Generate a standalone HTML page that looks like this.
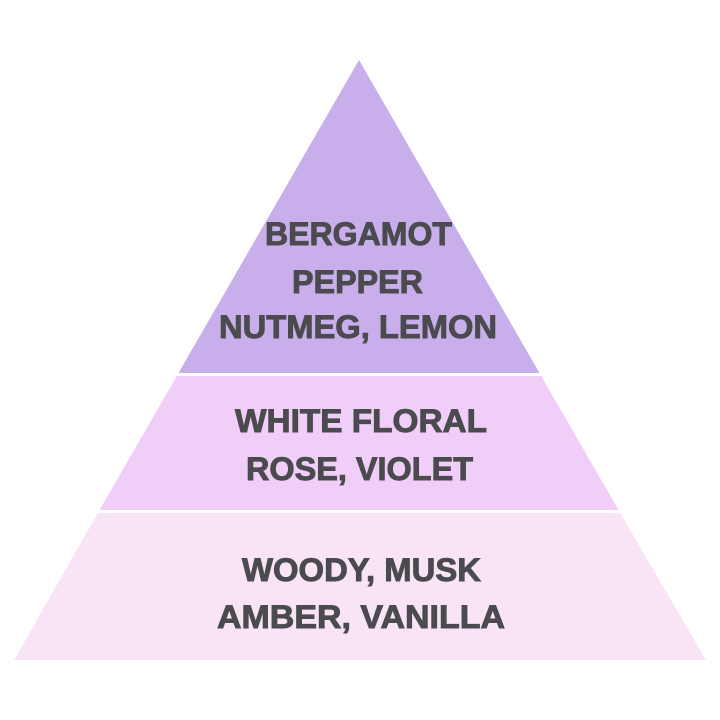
<!DOCTYPE html>
<html><head><meta charset="utf-8"><style>html,body{margin:0;padding:0;background:#fff}svg{display:block}</style></head>
<body>
<svg width="720" height="720" viewBox="0 0 720 720" xmlns="http://www.w3.org/2000/svg">
<rect width="720" height="720" fill="#fff"/>
<polygon points="359,60 539.5,373 178.5,373" fill="#c8aeea"/>
<polygon points="176.8,376 541.2,376 618.5,510 99.5,510" fill="#f0cef7"/>
<polygon points="97.8,513 620.2,513 706,660 14,660" fill="#f9e4f6"/>
<g font-family="Liberation Sans, sans-serif" font-weight="bold" font-size="32" fill="#4b4a4f" stroke="#4b4a4f" stroke-width="0.9" text-anchor="start">
<text x="265" y="245" textLength="187" lengthAdjust="spacingAndGlyphs">BERGAMOT</text>
<text x="292" y="293" textLength="131" lengthAdjust="spacingAndGlyphs">PEPPER</text>
<text x="219" y="338" textLength="278" lengthAdjust="spacingAndGlyphs">NUTMEG, LEMON</text>
<text x="235" y="432" textLength="252" lengthAdjust="spacingAndGlyphs">WHITE FLORAL</text>
<text x="246" y="480" textLength="227" lengthAdjust="spacingAndGlyphs">ROSE, VIOLET</text>
<text x="242" y="581" textLength="239" lengthAdjust="spacingAndGlyphs">WOODY, MUSK</text>
<text x="217" y="628" textLength="288" lengthAdjust="spacingAndGlyphs">AMBER, VANILLA</text>
</g>
</svg>
</body></html>
